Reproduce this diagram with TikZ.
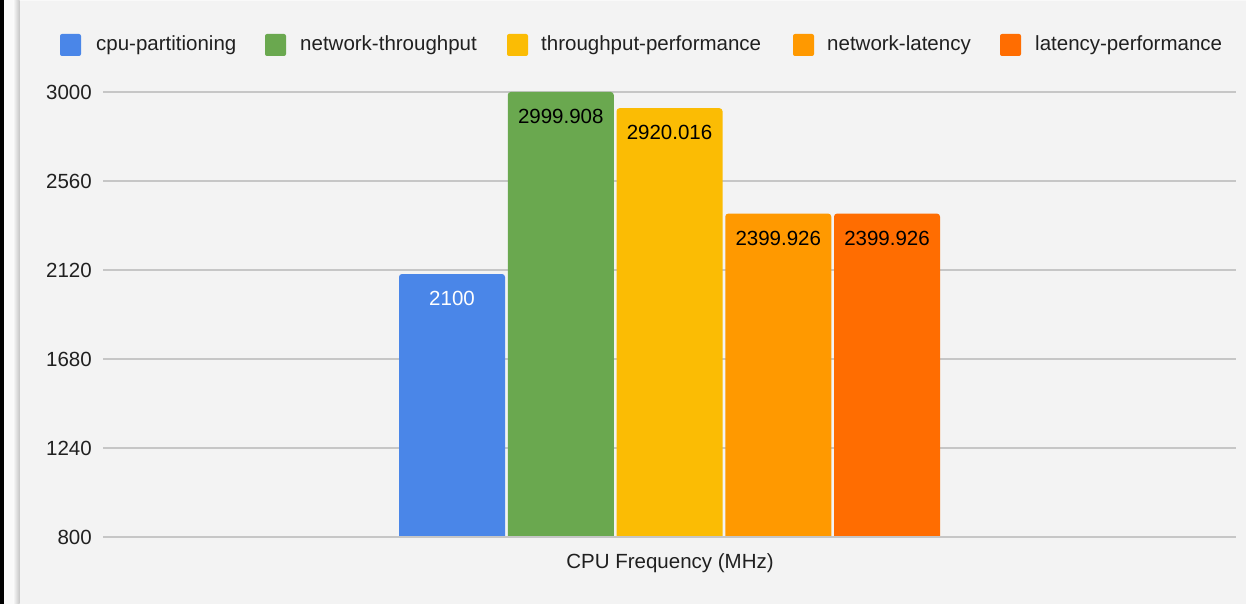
\documentclass[tikz,border=0pt]{standalone}
\usepackage{fontspec}
\setmainfont{Liberation Sans}
\definecolor{bgpanel}{HTML}{F3F3F3}
\definecolor{gridgray}{HTML}{C6C6C6}
\definecolor{inktext}{HTML}{202020}
\definecolor{cpart}{HTML}{4A86E8}
\definecolor{nthru}{HTML}{6AA84F}
\definecolor{tperf}{HTML}{FBBC04}
\definecolor{nlat}{HTML}{FF9900}
\definecolor{lperf}{HTML}{FF6D01}
\tikzset{
  chartfont/.style={font=\fontsize{20.5}{24}\selectfont, text=inktext},
  gridline/.style={draw=gridgray, line width=2pt},
  tick/.style={chartfont, anchor=east, inner sep=0pt},
  legkey/.style={minimum width=21pt, minimum height=22pt, inner sep=0pt, rounded corners=2pt},
  legtext/.style={chartfont, anchor=west, inner sep=0pt},
  vallabel/.style={font=\fontsize{20.5}{24}\selectfont, inner sep=0pt},
}
\begin{document}
\begin{tikzpicture}[x=1pt, y=-1pt]
  % panel and left frame edge
  \fill[bgpanel] (0,0) rectangle (1246,604);
  \useasboundingbox (0,0) rectangle (1246,604);
  \fill[black] (0,0) rectangle (3.5,604);
  \fill[white!60!bgpanel] (3.5,0) rectangle (13,604);
  \shade[left color=white!70!bgpanel, right color=black!22] (13,0) rectangle (19.5,604);
  \fill[white!50!bgpanel] (19.5,0) rectangle (1246,1.5);

  % value axis: 800 .. 3000, y = 537 at 800, y = 92 at 3000
  \foreach \v/\yy in {3000/92, 2560/181, 2120/270, 1680/359, 1240/448} {
    \draw[gridline] (103,\yy) -- (1236,\yy);
  }
  \node[tick] (t3000) at (92,92) {3000};
  \node[tick] (t2560) at (92,181) {2560};
  \node[tick] (t2120) at (92,270) {2120};
  \node[tick] (t1680) at (92,359) {1680};
  \node[tick] (t1240) at (92,448) {1240};
  \node[tick] (t800)  at (92,537) {800};

  % bars (value -> y = 537 - (v-800)*445/2200)
  \begin{scope}
    \clip (0,0) rectangle (1246,537);
    \fill[cpart, rounded corners=3pt] (399,274.0) rectangle (505,548);
    \fill[nthru, rounded corners=3pt] (507.75,92.0) rectangle (613.75,548);
    \fill[tperf, rounded corners=3pt] (616.5,108.2) rectangle (722.5,548);
    \fill[nlat,  rounded corners=3pt] (725.25,213.6) rectangle (831.25,548);
    \fill[lperf, rounded corners=3pt] (834,213.6) rectangle (940,548);
  \end{scope}
  \draw[gridline] (103,537) -- (1236,537);

  % value labels
  \node[vallabel, text=white] (v1) at (452,298) {2100};
  \node[vallabel, text=black] (v2) at (560.75,116) {2999.908};
  \node[vallabel, text=black] (v3) at (669.5,132) {2920.016};
  \node[vallabel, text=black] (v4) at (778.25,238) {2399.926};
  \node[vallabel, text=black] (v5) at (887,238) {2399.926};

  % category label
  \node[chartfont, inner sep=0pt] (xlab) at (670,563) {CPU Frequency (MHz)};

  % legend
  \node[legkey, fill=cpart] (k1) at (70.5,45) {};
  \node[legtext] (l1) at (96,45) {cpu-partitioning};
  \node[legkey, fill=nthru] (k2) at (275.5,45) {};
  \node[legtext] (l2) at (300,45) {network-throughput};
  \node[legkey, fill=tperf] (k3) at (517.5,45) {};
  \node[legtext] (l3) at (541,45) {throughput-performance};
  \node[legkey, fill=nlat] (k4) at (803.5,45) {};
  \node[legtext] (l4) at (827,45) {network-latency};
  \node[legkey, fill=lperf] (k5) at (1010.5,45) {};
  \node[legtext] (l5) at (1035,45) {latency-performance};
\end{tikzpicture}
\end{document}
